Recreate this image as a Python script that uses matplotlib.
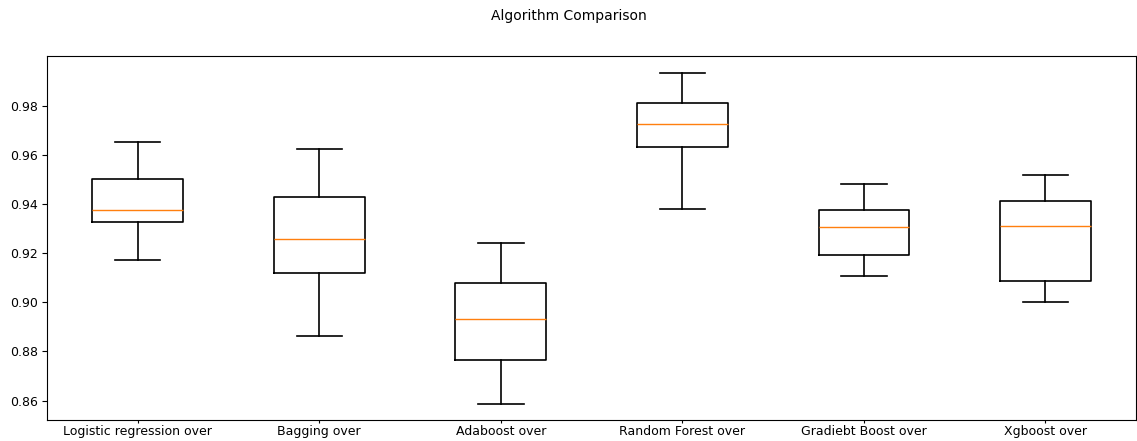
import matplotlib
matplotlib.use("Agg")
import matplotlib.pyplot as plt

# box statistics
names = ["Logistic regression over", "Bagging over", "Adaboost over",
         "Random Forest over", "Gradiebt Boost over", "Xgboost over"]
whislo = [0.9172, 0.8863, 0.8587, 0.9380, 0.9107, 0.9000]
q1 = [0.9328, 0.9120, 0.8766, 0.9630, 0.9193, 0.9088]
med = [0.9377, 0.9256, 0.8932, 0.9726, 0.9307, 0.9312]
q3 = [0.9502, 0.9428, 0.9079, 0.9811, 0.9375, 0.9412]
whishi = [0.9654, 0.9624, 0.9242, 0.9933, 0.9482, 0.9517]

stats = []
for i, n in enumerate(names):
    stats.append({"label": n, "whislo": whislo[i], "q1": q1[i], "med": med[i],
                  "q3": q3[i], "whishi": whishi[i], "fliers": []})

fig = plt.figure(figsize=(11.37, 4.41), dpi=100)
fig.suptitle("Algorithm Comparison", fontsize=10, y=0.98)
ax = fig.add_axes([0.0413, 0.0476, 0.958, 0.8254])
ax.bxp(stats, showfliers=False,
       boxprops=dict(linewidth=1.2), whiskerprops=dict(linewidth=1.2),
       capprops=dict(linewidth=1.2))
ax.set_ylim(0.8521, 1.0002)
ax.set_yticks([0.86, 0.88, 0.90, 0.92, 0.94, 0.96, 0.98])
ax.tick_params(labelsize=9, pad=3)
ax.tick_params(axis="x", pad=1, length=2.5)

fig.savefig("out.png", dpi=100)
